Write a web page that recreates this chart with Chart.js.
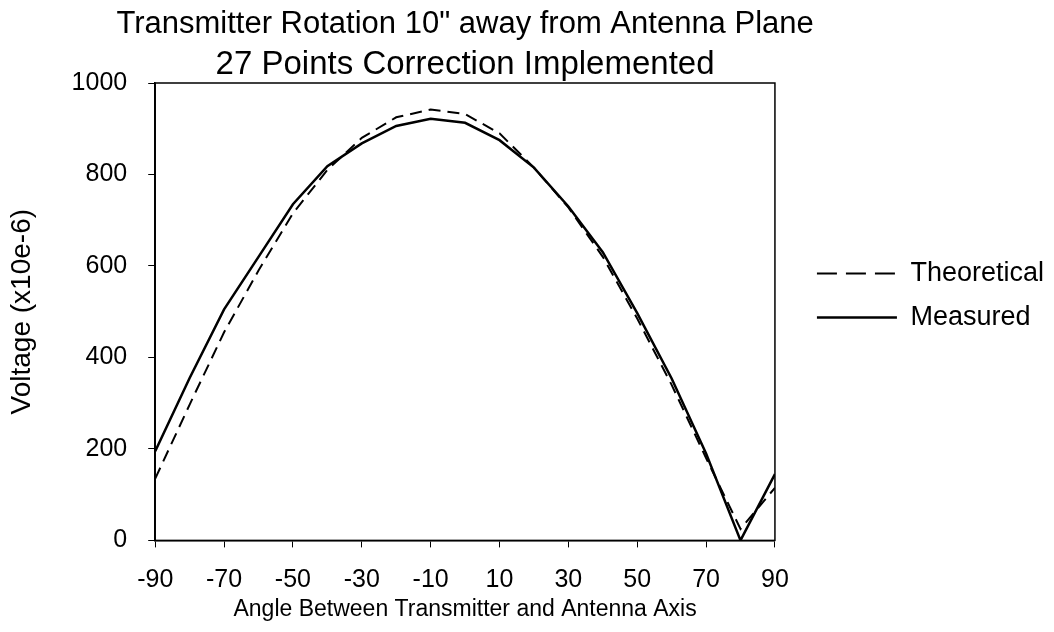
<!DOCTYPE html>
<html>
<head>
<meta charset="utf-8">
<script src="https://cdn.jsdelivr.net/npm/chart.js@4.4.1/dist/chart.umd.min.js"></script>
<style>
  html, body { margin: 0; padding: 0; background: #fff; }
  #wrap { width: 1054px; height: 632px; }
</style>
</head>
<body>
<div id="wrap"><canvas id="angleChart" width="1054" height="632"></canvas></div>
<script>
// angles in degrees
const angles = [-90, -80, -70, -60, -50, -40, -30, -20, -10, 0, 10, 20, 30, 40, 50, 60, 70, 80, 90];
const theoretical = [135, 297, 455, 590, 715, 810, 880, 925, 942, 932, 890, 815, 728, 620, 485, 340, 180, 25, 115];
const measured = [195, 355, 505, 620, 735, 818, 868, 906, 922, 913, 875, 815, 730, 630, 497, 354, 190, 0, 145];
const xTicks = [-90, -70, -50, -30, -10, 10, 30, 50, 70, 90];
const yTicks = [0, 200, 400, 600, 800, 1000];
const titleLines = ['Transmitter Rotation 10" away from Antenna Plane', '27 Points Correction Implemented'];

const FONT = "'Liberation Sans', Arial, sans-serif";

const toPoints = (ys) => ys.map((y, i) => ({ x: angles[i], y: y }));

// title centred over the plot, plus the box round the plot area
const plotDecor = {
    id: 'plotDecor',
    afterDraw(chart) {
        const a = chart.chartArea;
        const c = chart.ctx;
        c.save();
        c.strokeStyle = '#000';
        c.lineWidth = 1.5;
        c.setLineDash([]);
        c.strokeRect(a.left, a.top, a.right - a.left, a.bottom - a.top);

        const cx = (a.left + a.right) / 2;
        c.fillStyle = '#000';
        c.textAlign = 'center';
        c.textBaseline = 'alphabetic';
        c.font = '31px ' + FONT;
        c.fillText(titleLines[0], cx, 33);
        c.font = '33px ' + FONT;
        c.fillText(titleLines[1], cx, 74);
        c.restore();
    }
};

const ctx = document.getElementById('angleChart').getContext('2d');
new Chart(ctx, {
    type: 'line',
    data: {
        datasets: [{
            label: 'Theoretical',
            data: toPoints(theoretical),
            borderColor: '#000',
            backgroundColor: '#000',
            borderWidth: 2,
            borderDash: [12, 7],
            pointRadius: 0,
            tension: 0
        }, {
            label: 'Measured',
            data: toPoints(measured),
            borderColor: '#000',
            backgroundColor: '#000',
            borderWidth: 2.5,
            pointRadius: 0,
            tension: 0
        }]
    },
    options: {
        responsive: false,
        animation: false,
        layout: { padding: { left: 4, right: 0, top: 83, bottom: 0 } },
        scales: {
            x: {
                type: 'linear',
                min: -90,
                max: 90,
                afterBuildTicks: (s) => { s.ticks = xTicks.map(v => ({ value: v })); },
                grid: { drawOnChartArea: false, color: '#000', tickLength: 7, lineWidth: 1 },
                border: { color: '#000', width: 1.5 },
                ticks: { color: '#000', padding: 18, maxRotation: 0, font: { family: FONT, size: 25 } },
                title: {
                    display: true,
                    text: 'Angle Between Transmitter and Antenna Axis',
                    color: '#000',
                    padding: { top: -18, bottom: 9 },
                    font: { family: FONT, size: 23 }
                }
            },
            y: {
                min: 0,
                max: 1000,
                afterBuildTicks: (s) => { s.ticks = yTicks.map(v => ({ value: v })); },
                grid: { drawOnChartArea: false, color: '#000', tickLength: 7, lineWidth: 1 },
                border: { color: '#000', width: 1.5 },
                ticks: {
                    color: '#000',
                    padding: 21,
                    font: { family: FONT, size: 25 },
                    callback: (v) => String(v)
                },
                title: {
                    display: true,
                    text: 'Voltage (x10e-6)',
                    color: '#000',
                    padding: { top: 1, bottom: 12 },
                    font: { family: FONT, size: 28 }
                }
            },
            // hidden axis that only keeps a gap between plot and legend
            gap: {
                position: 'right',
                display: false,
                afterFit: (s) => { s.width = 25; }
            }
        },
        plugins: {
            legend: {
                position: 'right',
                fullSize: false,
                align: 'start',
                title: { display: true, text: ' ', padding: { top: 0, bottom: 148 }, font: { size: 10 } },
                labels: {
                    color: '#000',
                    usePointStyle: true,
                    pointStyle: 'line',
                    pointStyleWidth: 80,
                    padding: 17,
                    font: { family: FONT, size: 27 },
                    generateLabels: (chart) => {
                        const items = Chart.defaults.plugins.legend.labels.generateLabels(chart);
                        items.forEach(it => {
                            const ds = chart.data.datasets[it.datasetIndex];
                            it.lineDash = ds.borderDash ? [20, 9] : [];
                            it.lineWidth = ds.borderWidth;
                            it.strokeStyle = '#000';
                        });
                        return items;
                    }
                }
            },
            tooltip: { enabled: false }
        }
    },
    plugins: [plotDecor]
});
</script>
</body>
</html>
